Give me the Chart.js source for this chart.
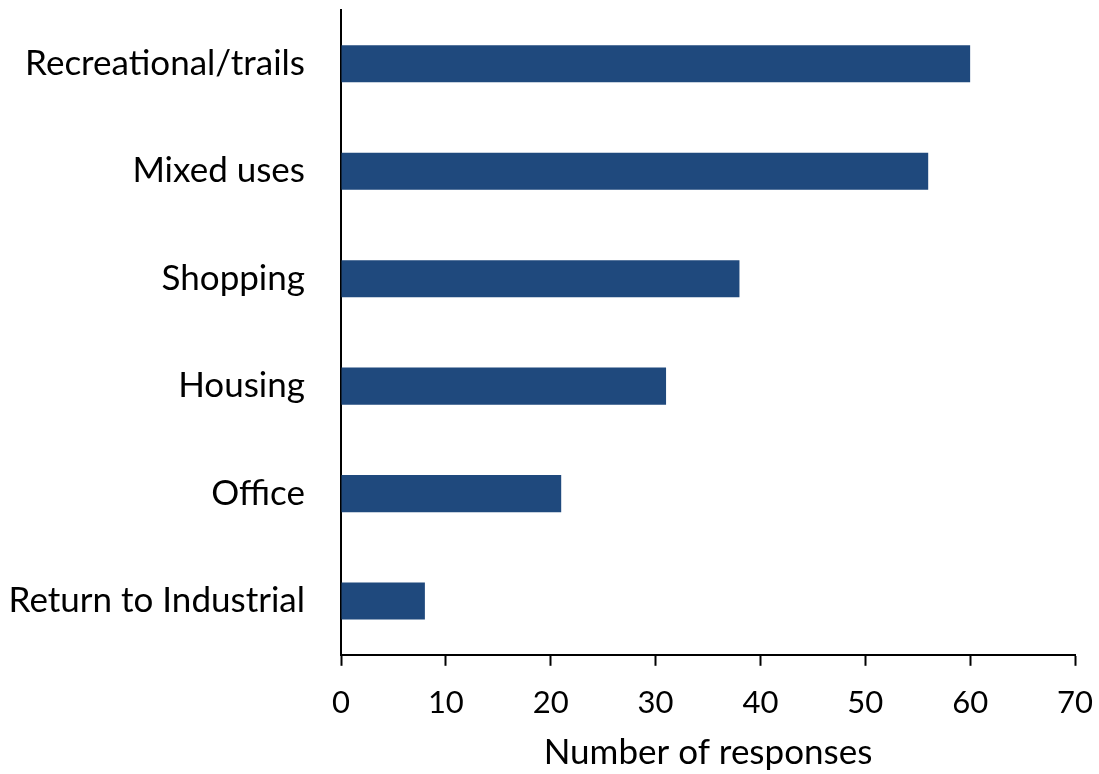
<!DOCTYPE html>
<html>
<head>
<meta charset="utf-8">
<script src="https://cdn.jsdelivr.net/npm/chart.js@4/dist/chart.umd.min.js"></script>
<style>
  html, body { margin: 0; padding: 0; background: #ffffff; }
  #wrap { width: 1099px; height: 774px; position: relative; }
</style>
</head>
<body>
<div id="wrap"><canvas id="chart" width="1099" height="774"></canvas></div>
<script>
// categories top to bottom
const categories = ['Recreational/trails', 'Mixed uses', 'Shopping', 'Housing', 'Office', 'Return to Industrial'];
const responses = [60, 56, 38, 31, 21, 8];
const xTicks = [0, 10, 20, 30, 40, 50, 60, 70];

const fontFamily = 'Lato, "Open Sans", sans-serif';

function draw() {
  let chart = new Chart(document.getElementById('chart'), {
    type: 'bar',
    data: {
      labels: categories,
      datasets: [{
        label: 'Number of responses',
        data: responses,
        backgroundColor: '#1F497D',
        borderWidth: 0,
        barPercentage: 0.345,
        categoryPercentage: 1.0
      }]
    },
    options: {
      indexAxis: 'y',
      responsive: false,
      animation: false,
      layout: { padding: { top: 10, right: 6, left: 6, bottom: 0 } },
      plugins: {
        legend: { display: false },
        tooltip: { enabled: false }
      },
      scales: {
        x: {
          min: 0,
          max: 70,
          afterBuildTicks: (axis) => { axis.ticks = xTicks.map(v => ({ value: v })); },
          afterFit: (scale) => {
            scale.height -= 13;
            scale.paddingLeft = 0;
            scale.paddingRight = 24;
          },
          grid: {
            drawOnChartArea: false,
            drawTicks: true,
            tickLength: 11,
            tickWidth: 2,
            tickColor: '#000000'
          },
          border: { display: true, color: '#000000', width: 2 },
          ticks: {
            color: '#000000',
            font: { family: fontFamily, size: 31 },
            padding: 19
          },
          title: {
            display: true,
            text: 'Number of responses',
            color: '#000000',
            font: { family: fontFamily, size: 35 },
            padding: { top: 4, bottom: 0 }
          }
        },
        y: {
          afterFit: (scale) => {
            scale.width = 335;
            scale.paddingTop = 0;
            scale.paddingBottom = 0;
          },
          grid: { drawOnChartArea: false, drawTicks: false },
          border: { display: true, color: '#000000', width: 2 },
          ticks: {
            color: '#000000',
            font: { family: fontFamily, size: 35 },
            padding: 36
          }
        }
      }
    }
  });
}

Promise.all([
  document.fonts.load('35px Lato'),
  document.fonts.load('31px Lato')
]).then(draw, draw);
</script>
</body>
</html>
